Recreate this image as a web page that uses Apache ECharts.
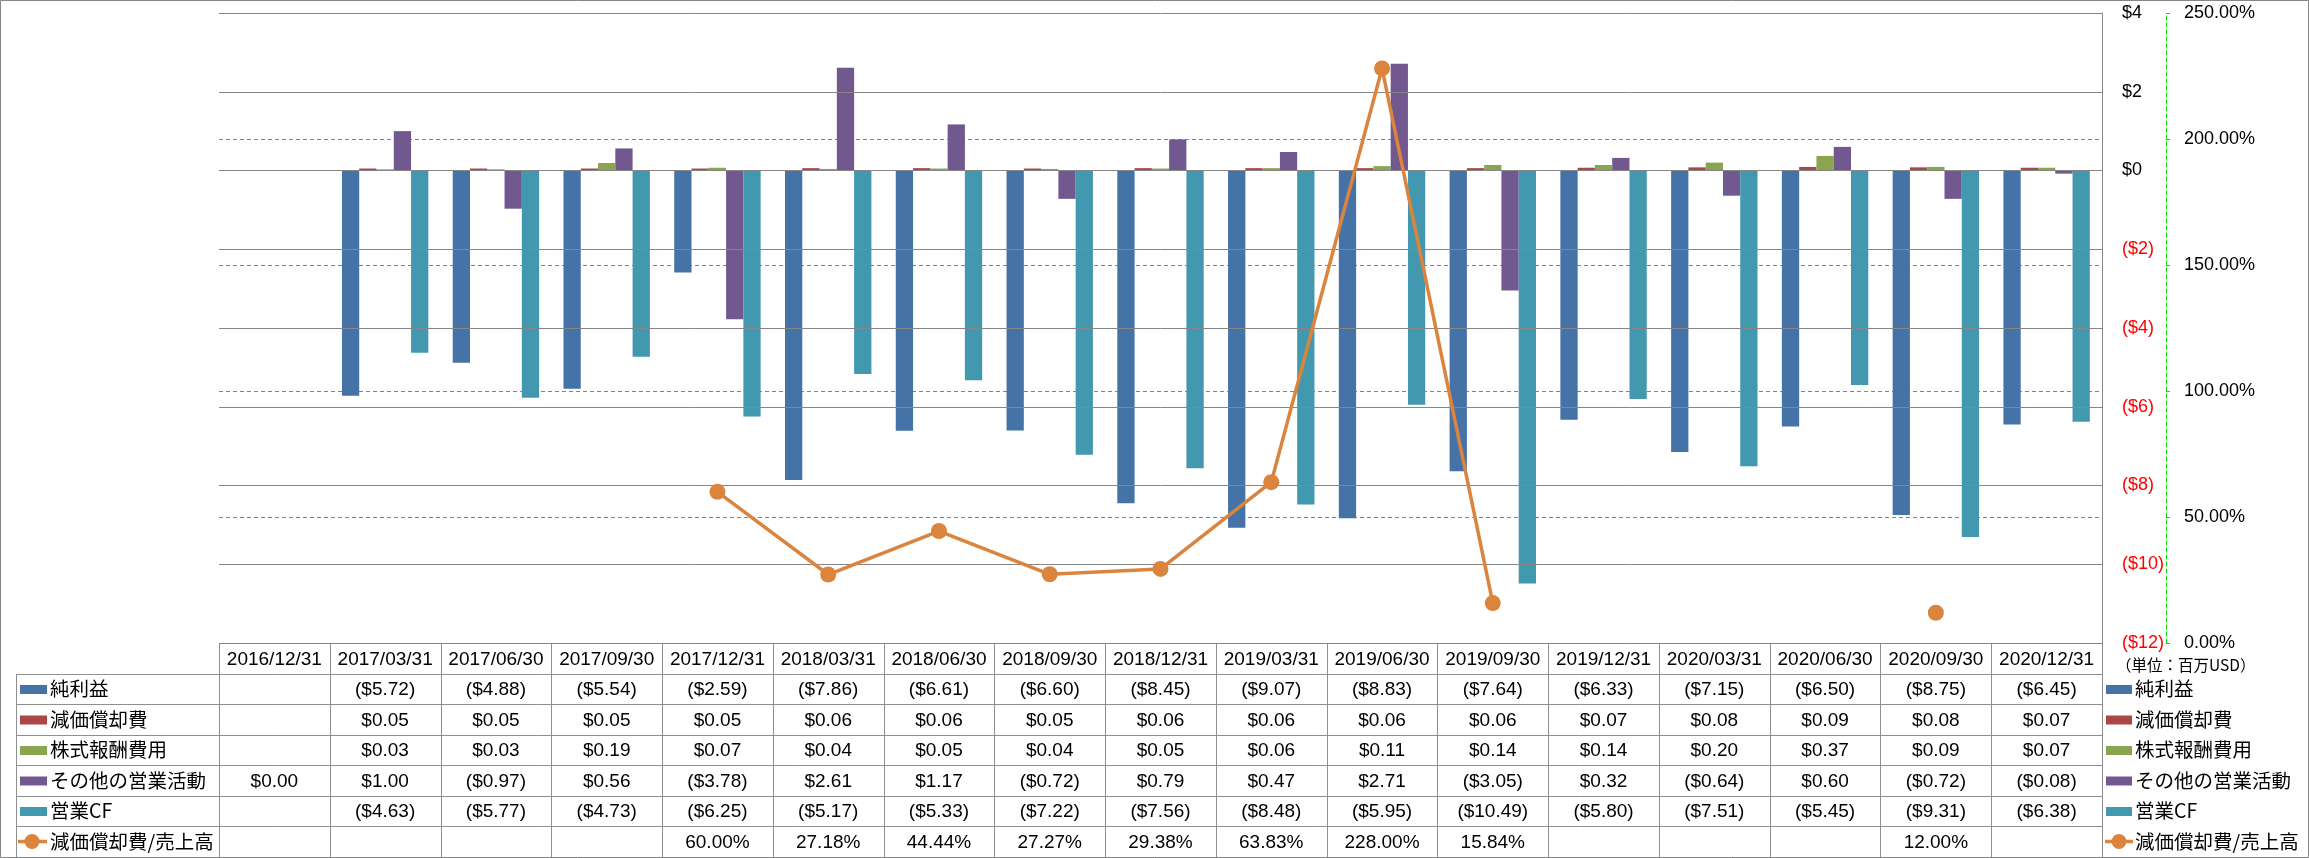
<!DOCTYPE html>
<html><head><meta charset="utf-8">
<script src="https://cdn.jsdelivr.net/npm/echarts@6/dist/echarts.min.js"></script>
<style>html,body{margin:0;padding:0;background:#fff}#c{width:2309px;height:858px}</style>
</head><body><div id="c"></div>
<script>
const categories = ['2016/12/31','2017/03/31','2017/06/30','2017/09/30','2017/12/31','2018/03/31','2018/06/30','2018/09/30','2018/12/31','2019/03/31','2019/06/30','2019/09/30','2019/12/31','2020/03/31','2020/06/30','2020/09/30','2020/12/31'];
const netIncome    = [null,-5.72,-4.88,-5.54,-2.59,-7.86,-6.61,-6.60,-8.45,-9.07,-8.83,-7.64,-6.33,-7.15,-6.50,-8.75,-6.45];
const depreciation = [null,0.05,0.05,0.05,0.05,0.06,0.06,0.05,0.06,0.06,0.06,0.06,0.07,0.08,0.09,0.08,0.07];
const stockComp    = [null,0.03,0.03,0.19,0.07,0.04,0.05,0.04,0.05,0.06,0.11,0.14,0.14,0.20,0.37,0.09,0.07];
const otherOps     = [0.00,1.00,-0.97,0.56,-3.78,2.61,1.17,-0.72,0.79,0.47,2.71,-3.05,0.32,-0.64,0.60,-0.72,-0.08];
const operatingCF  = [null,-4.63,-5.77,-4.73,-6.25,-5.17,-5.33,-7.22,-7.56,-8.48,-5.95,-10.49,-5.80,-7.51,-5.45,-9.31,-6.38];
const depToSales   = [null,null,null,null,60.00,27.18,44.44,27.27,29.38,63.83,228.00,15.84,null,null,null,12.00,null];
const seriesNames  = ['純利益','減価償却費','株式報酬費用','その他の営業活動','営業CF','減価償却費/売上高'];
const unitLabel = '（単位：百万USD）';

const colors = ['#4572A7','#AA4643','#89A54E','#71588F','#4198AF','#DB843D'];
const GL = 219, GR = 2102, GT = 13, GB = 643;
const W = 2309, H = 858;
const colW = (GR - GL) / categories.length;
const rowY = [643, 674, 704, 735, 765, 796, 826, 857];
const numFont = '"Liberation Sans",Arial,sans-serif';
const cjkFont = '"Noto Sans CJK JP",sans-serif';
const axFont = '"Liberation Sans",Arial,sans-serif';
const gridGray = '#868686';
const tableGray = '#8f8f8f';

function fmtUSD(v){ if(v===null||v===undefined) return ''; return v<0 ? '($'+(-v).toFixed(2)+')' : '$'+v.toFixed(2); }
function fmtPct(v){ if(v===null||v===undefined) return ''; return v.toFixed(2)+'%'; }

const barData = [netIncome, depreciation, stockComp, otherOps, operatingCF];
const series = barData.map((d,i)=>({
  name: seriesNames[i], type:'bar', data:d, yAxisIndex:0,
  barGap:'0%', barCategoryGap:'22%',
  itemStyle:{color:colors[i]}
}));
series.push({
  name: seriesNames[5], type:'line', data:depToSales, yAxisIndex:1,
  symbol:'circle', symbolSize:16, showSymbol:true, connectNulls:false, z:10,
  lineStyle:{color:colors[5], width:3.5}, itemStyle:{color:colors[5]}
});

const g = [];
function line(x1,y1,x2,y2,c,w){ g.push({type:'line', silent:true, shape:{x1,y1,x2,y2}, style:{stroke:c||tableGray, lineWidth:w||1}}); }
function text(x,y,t,font,size,align,color){ g.push({type:'text', silent:true, x, y, style:{text:t, fontFamily:font, fontSize:size, fill:color||'#000', align:align||'center', verticalAlign:'middle'}}); }
g.push({type:'rect', silent:true, shape:{x:0.5,y:0.5,width:W-1,height:H-1}, style:{fill:null, stroke:gridGray, lineWidth:1}});
line(GL, rowY[0]+0.5, GR, rowY[0]+0.5);
for(let r=1;r<rowY.length-1;r++){ const y=Math.round(rowY[r])+0.5; line(16, y, GR, y); }
for(let i=0;i<=categories.length;i++){ const x=Math.round(GL+i*colW)+0.5; line(x, rowY[0], x, rowY[7]); }
line(16.5, rowY[1], 16.5, rowY[7]);
categories.forEach((c,i)=>text(GL+(i+0.5)*colW, (rowY[0]+rowY[1])/2+1, c, numFont, 19));
const allData = [netIncome, depreciation, stockComp, otherOps, operatingCF, depToSales];
allData.forEach((d,r)=>{
  const cy = (rowY[r+1]+rowY[r+2])/2;
  d.forEach((v,i)=>{ const s = r===5 ? fmtPct(v) : fmtUSD(v); if(s) text(GL+(i+0.5)*colW, cy+1, s, numFont, 19); });
  if(r<5){ g.push({type:'rect', silent:true, shape:{x:20,y:cy-4,width:27,height:9}, style:{fill:colors[r]}}); }
  else { line(18, cy, 47, cy, colors[5], 3.5); g.push({type:'circle', silent:true, shape:{cx:32,cy:cy,r:7.5}, style:{fill:colors[5]}}); }
  text(50, cy, seriesNames[r], cjkFont, 19.5, 'left');
  if(r<5){ g.push({type:'rect', silent:true, shape:{x:2106,y:cy-4,width:26,height:9}, style:{fill:colors[r]}}); }
  else { line(2105, cy, 2133, cy, colors[5], 3.5); g.push({type:'circle', silent:true, shape:{cx:2119,cy:cy,r:7.5}, style:{fill:colors[5]}}); }
  text(2135, cy, seriesNames[r], cjkFont, 19.5, 'left');
});
text(2116, 665, unitLabel, cjkFont, 15.5, 'left');

const chart = echarts.init(document.getElementById('c'), null, {renderer:'canvas'});
chart.setOption({
  animation:false,
  backgroundColor:'#fff',
  grid:{left:GL, right:W-GR, top:GT, bottom:H-GB, containLabel:false},
  xAxis:{type:'category', data:categories, boundaryGap:true, axisLine:{show:false}, axisTick:{show:false}, axisLabel:{show:false}, splitLine:{show:false}},
  yAxis:[
    {type:'value', position:'right', min:-12, max:4, interval:2, z:3,
     axisLine:{show:true, lineStyle:{color:gridGray, width:1}}, axisTick:{show:false},
     axisLabel:{margin:20, fontFamily:axFont, fontSize:18, color:'#000',
       formatter:v=> v<0 ? '{n|($'+(-v)+')}' : '$'+v,
       rich:{n:{color:'#ff0000', fontFamily:axFont, fontSize:18}}},
     splitLine:{show:true, lineStyle:{color:gridGray, width:1}}},
    {type:'value', position:'right', offset:64, min:0, max:250, interval:50, z:0,
     axisLine:{show:true, lineStyle:{color:'#00dd00', width:1, type:[4,3]}},
     axisTick:{show:true, length:4, lineStyle:{color:'#00dd00'}},
     axisLabel:{margin:18, fontFamily:axFont, fontSize:18, color:'#000', formatter:v=>v.toFixed(2)+'%'},
     splitLine:{show:true, showMaxLine:false, showMinLine:false, lineStyle:{color:'#00e000', width:1, type:[4,3]}}}
  ],
  series:series,
  graphic:g
});
</script></body></html>
